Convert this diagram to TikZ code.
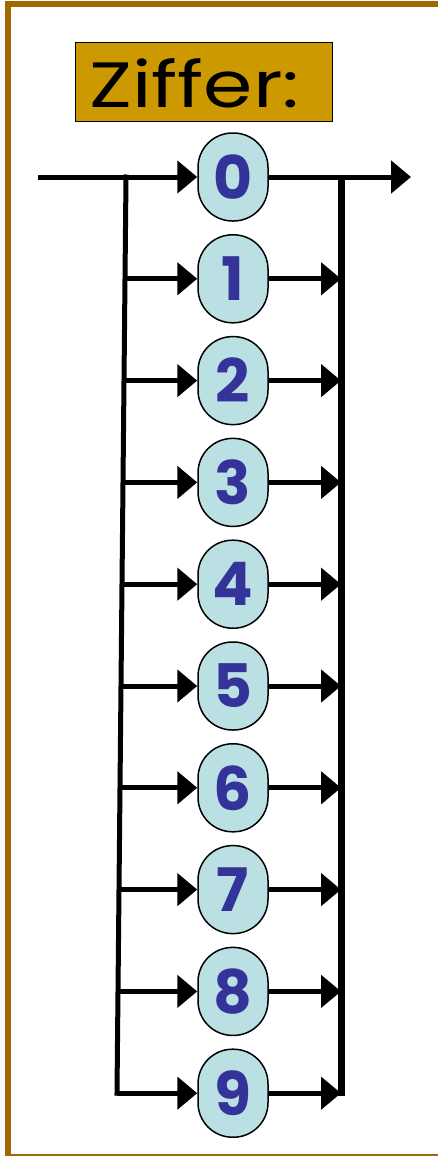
\documentclass[tikz,border=0pt]{standalone}
\usepackage{fontspec}
\setmainfont{Poppins}
\usepackage{xcolor}
\usepackage{graphicx}
\usetikzlibrary{arrows.meta}
\usetikzlibrary{backgrounds,positioning}
\definecolor{framebrown}{RGB}{160,104,0}
\definecolor{titlegold}{RGB}{204,153,0}
\definecolor{digitfill}{RGB}{187,224,227}
\definecolor{digitblue}{RGB}{51,51,153}

\begin{document}
\begin{tikzpicture}[x=1pt,y=-1pt]
      \useasboundingbox (0,0) rectangle (437,1156);
      \tikzstyle{every node}=[inner sep=0pt]
      \tikzstyle{digit}=[draw,line width=1.5pt,fill=digitfill,text=digitblue,
                         minimum width=70pt,minimum height=88pt,rounded corners=34.5pt,
                         font=\fontsize{60}{60}\selectfont\bfseries]
      \tikzstyle{bar}=[line width=5pt,-{Triangle[length=20pt,width=32pt]}]

      % frame and title
      \draw[framebrown,line width=6pt] (8,1159) -- (8,4) -- (440,4);
      \draw[framebrown,line width=2pt] (8,1155) -- (440,1155);
      \node[draw,line width=1pt,fill=titlegold,minimum width=257pt,minimum height=78pt] (title) at (203.5,82) {};
      \node[anchor=base west,font=\fontsize{64}{64}\selectfont] (titletext) at (89,107) {\scalebox{1.24}[1]{Ziffer:}};

      % digits
      \node[digit] (d0) at (233,177.0) {0};
      \node[digit] (d1) at (233,278.8) {1};
      \node[digit] (d2) at (233,380.6) {2};
      \node[digit] (d3) at (233,482.4) {3};
      \node[digit] (d4) at (233,584.2) {4};
      \node[digit] (d5) at (233,686.0) {5};
      \node[digit] (d6) at (233,787.8) {6};
      \node[digit] (d7) at (233,889.6) {7};
      \node[digit] (d8) at (233,991.4) {8};
      \node[digit] (d9) at (233,1093.2) {9};

      % left bus
      \coordinate (in) at (38,177);
      \coordinate (l0) at (126,177);
      \coordinate (l1) at (125,278.8);
      \coordinate (l2) at (124,380.6);
      \coordinate (l3) at (123,482.4);
      \coordinate (l4) at (122,584.2);
      \coordinate (l5) at (121,686.0);
      \coordinate (l6) at (120,787.8);
      \coordinate (l7) at (119,889.6);
      \coordinate (l8) at (118,991.4);
      \coordinate (l9) at (117,1093.2);
      \draw[line width=5pt,line cap=rect] (l0) -- (l9);

      % right bus
      \coordinate (r0) at (341,177);
      \coordinate (r9) at (341,1096);
      \coordinate (out) at (411,177);
      \draw[line width=7pt] (r0) -- (r9);

      \draw[bar] (in) -- (d0);
      \draw[bar] (d0) -- (out);
      \draw[bar] (l1) -- (d1);
      \draw[bar] (l2) -- (d2);
      \draw[bar] (l3) -- (d3);
      \draw[bar] (l4) -- (d4);
      \draw[bar] (l5) -- (d5);
      \draw[bar] (l6) -- (d6);
      \draw[bar] (l7) -- (d7);
      \draw[bar] (l8) -- (d8);
      \draw[bar] (l9) -- (d9);
      \draw[bar] (d1) -- (d1 -| r0);
      \draw[bar] (d2) -- (d2 -| r0);
      \draw[bar] (d3) -- (d3 -| r0);
      \draw[bar] (d4) -- (d4 -| r0);
      \draw[bar] (d5) -- (d5 -| r0);
      \draw[bar] (d6) -- (d6 -| r0);
      \draw[bar] (d7) -- (d7 -| r0);
      \draw[bar] (d8) -- (d8 -| r0);
      \draw[bar] (d9) -- (d9 -| r0);
    \end{tikzpicture}
\end{document}
